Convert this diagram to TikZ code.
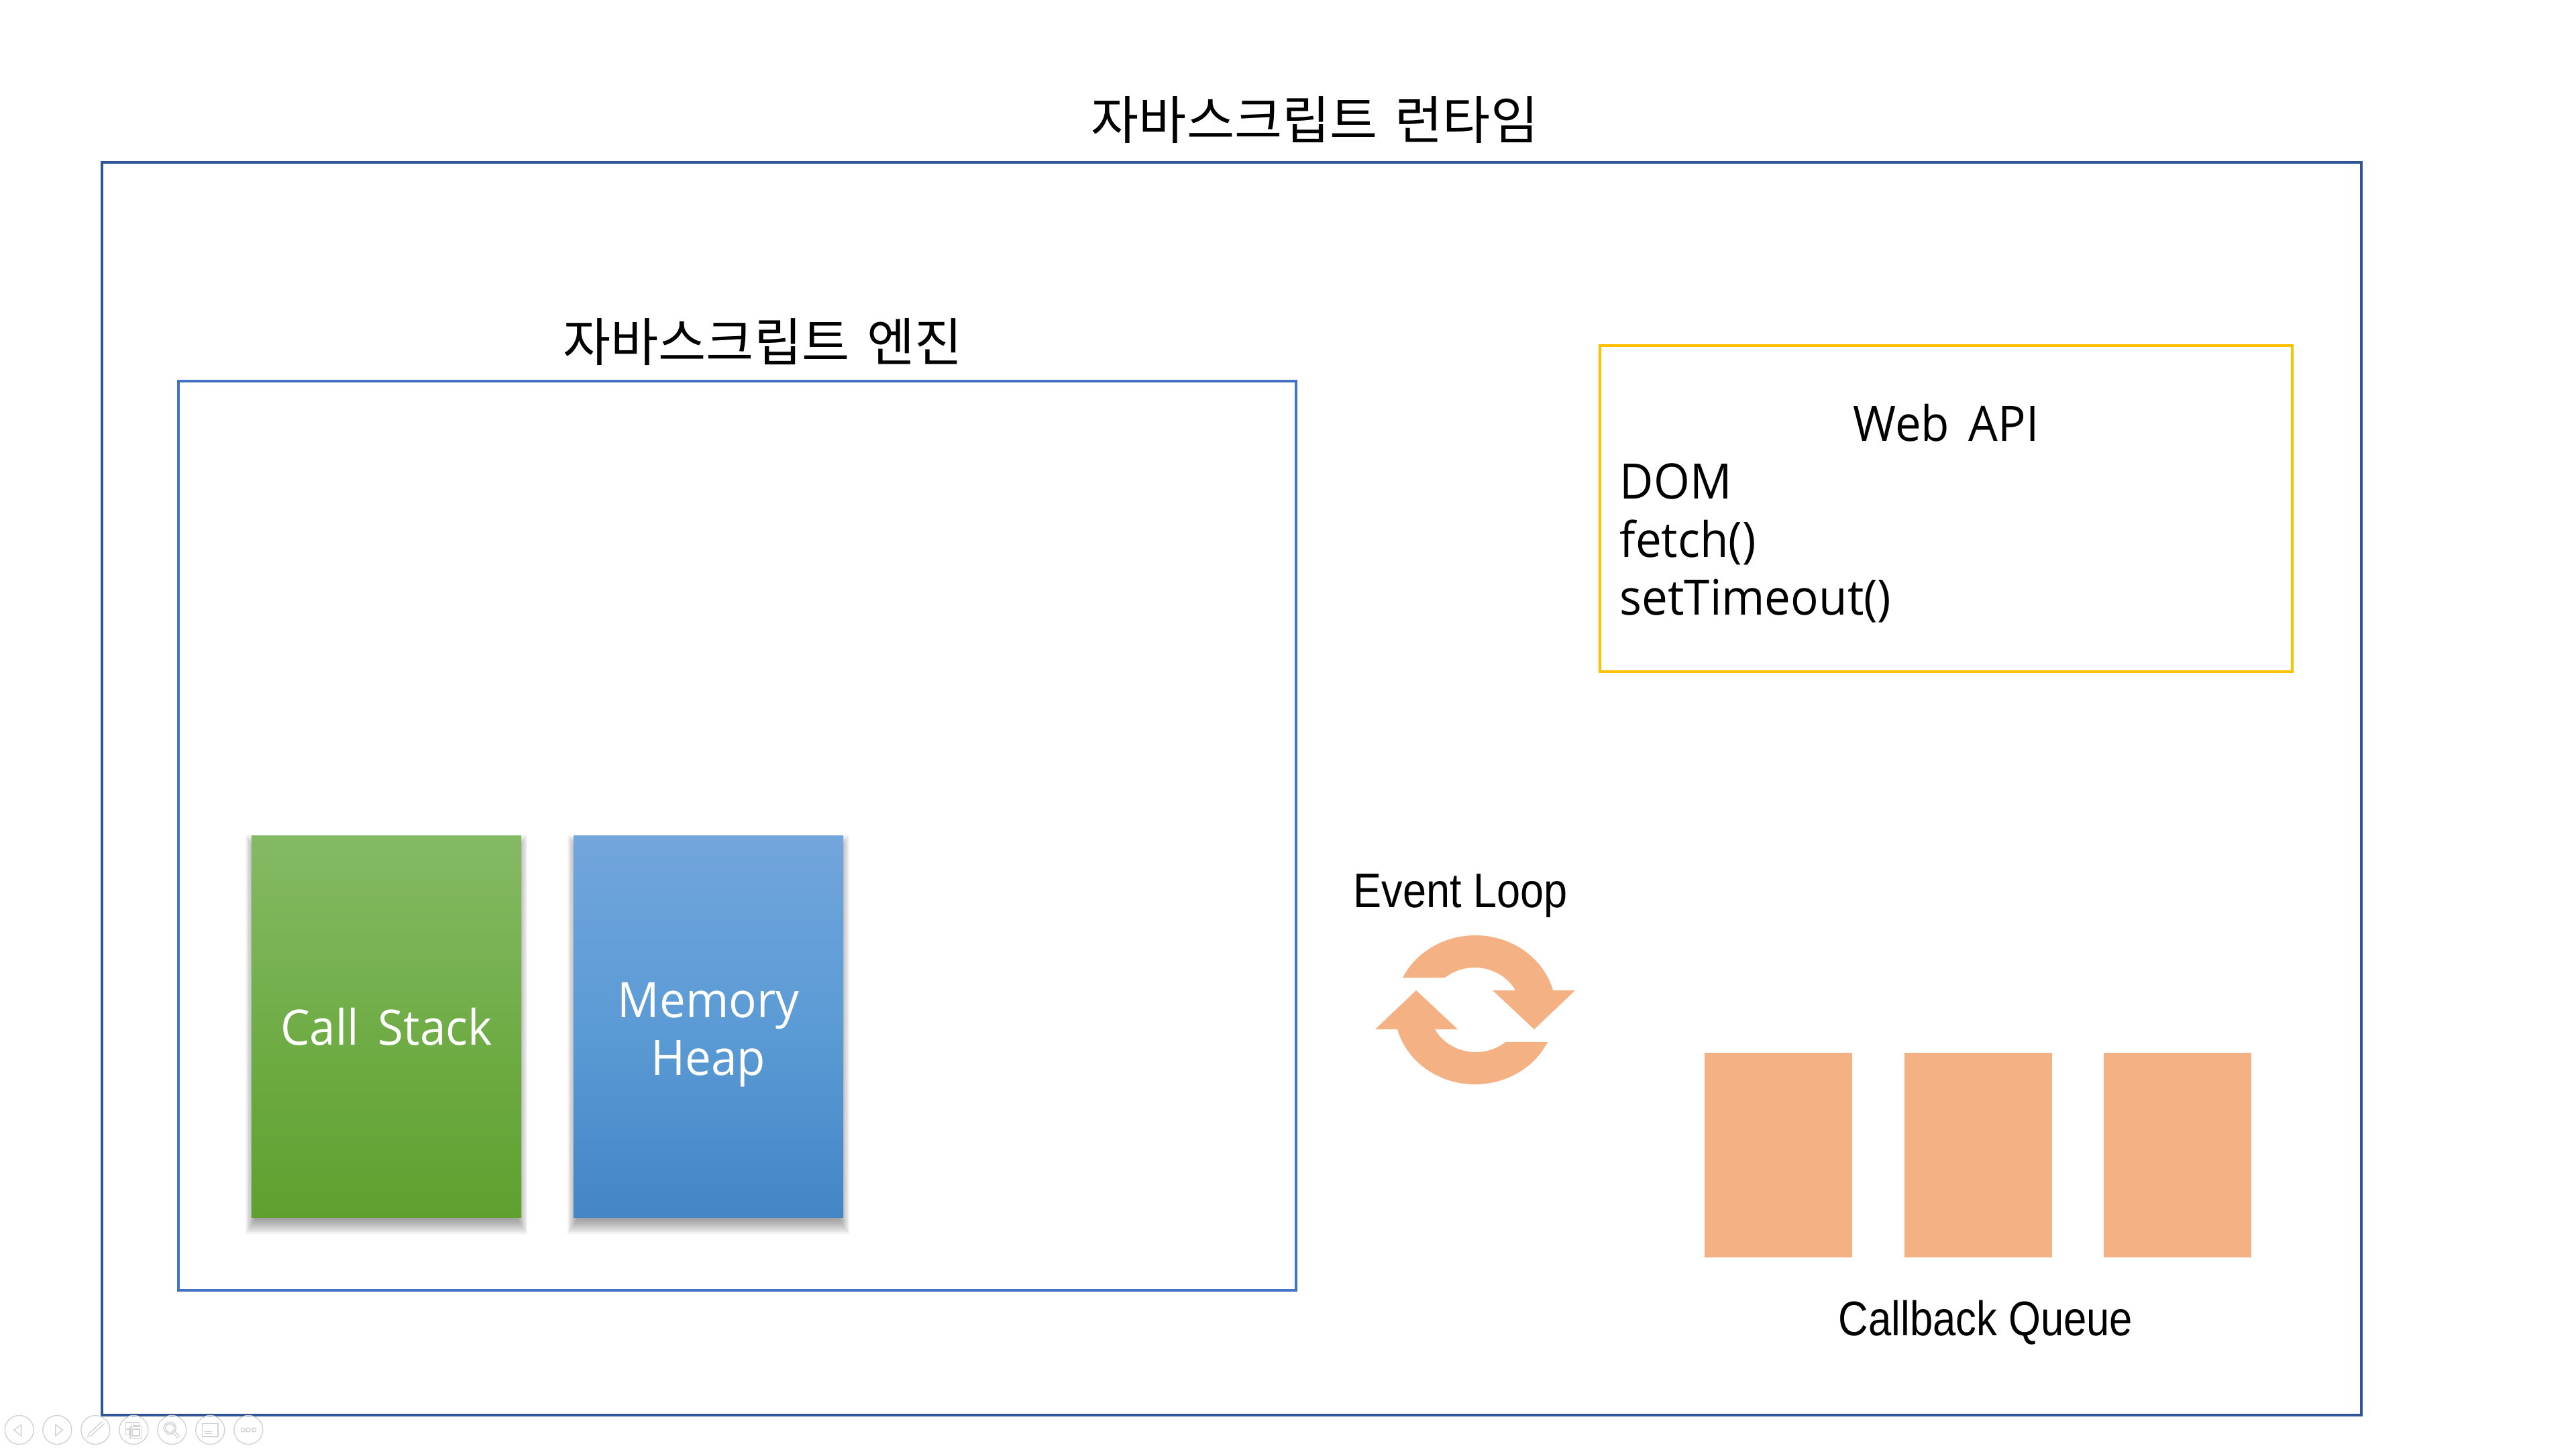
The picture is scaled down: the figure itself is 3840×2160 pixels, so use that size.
\documentclass[tikz,border=0pt]{standalone}
\usepackage{fontspec}
\usetikzlibrary{backgrounds}
\newfontfamily\krfont[WordSpace=1.5]{Noto Sans CJK KR}
\newfontfamily\bodyfont[FakeStretch=0.95,WordSpace=1.6]{Open Sans}
\newfontfamily\arialfont[FakeStretch=0.87]{Liberation Sans}
\newfontfamily\queuefont[FakeStretch=0.85]{Liberation Sans}
\definecolor{runtimeblue}{HTML}{2F5597}
\definecolor{engineblue}{HTML}{4472C4}
\definecolor{apiyellow}{HTML}{FFC000}
\definecolor{queueorange}{HTML}{F4B183}
\definecolor{toolgray}{HTML}{D2D2D2}
\definecolor{greentop}{HTML}{85BA65}
\definecolor{greenmid}{HTML}{70AD47}
\definecolor{greenbot}{HTML}{5FA02F}
\definecolor{bluetop}{HTML}{72A5DC}
\definecolor{bluemid}{HTML}{5B9BD5}
\definecolor{bluebot}{HTML}{4386C6}
\tikzset{
    framebox/.style={draw=#1, line width=0.04cm, rectangle, inner sep=0pt},
    titletext/.style={font=\krfont\fontsize{22}{26}\selectfont, inner sep=0pt},
    bodytext/.style={font=\bodyfont\fontsize{20.7}{24.5}\selectfont, inner sep=0pt},
    arialtext/.style={font=\arialfont\fontsize{20.6}{24}\selectfont, inner sep=0pt},
    stackbox/.style={rectangle, minimum width=4.02cm, minimum height=5.68cm, inner sep=0pt,
        text=white, align=center, bodytext},
    queuebox/.style={rectangle, fill=queueorange, minimum width=2.2cm, minimum height=3.05cm},
    toolicon/.style={draw=toolgray, line width=0.014cm},
}
\begin{document}
\begin{tikzpicture}[x=0.01cm,y=-0.01cm]
    \useasboundingbox (0,0) rectangle (3840,2160);

    % frames
    \node[framebox=runtimeblue, minimum width=33.66cm, minimum height=18.65cm] (runtime) at (1836,1175.5) {};
    \node[framebox=engineblue, minimum width=16.65cm, minimum height=13.55cm] (engine) at (1098.5,1245.5) {};
    \node[framebox=apiyellow, minimum width=10.32cm, minimum height=4.86cm] (webapi) at (2901,758) {};

    \node[titletext] (runtimetitle) at (1960,178.5) {자바스크립트 런타임};
    \node[titletext] (enginetitle) at (1137,509.5) {자바스크립트 엔진};

    % engine boxes
    \node[stackbox, shade, top color=greentop, bottom color=greenbot, middle color=greenmid]
        (callstack) at (576,1530) {Call Stack};
    \node[stackbox, shade, top color=bluetop, bottom color=bluebot, middle color=bluemid]
        (heap) at (1056,1530) {\rule{0pt}{0.76cm}Memory\\Heap};

    \begin{scope}[on background layer]
        \foreach \b in {callstack,heap}
            \foreach \d in {-0.12,-0.09,...,0.13}
                \fill[black,opacity=0.055] ([shift={(-\d*0.7 cm,-\d cm-0.12cm)}]\b.south west)
                    rectangle ([shift={(\d*0.7 cm,\d cm-0.12cm)}]\b.north east);
    \end{scope}

    % web api text
    \node[bodytext, anchor=base] (apititle) at (2901,657) {Web API};
    \node[bodytext, anchor=base west] (apidom) at (2414,743) {DOM};
    \node[bodytext, anchor=base west] (apifetch) at (2414,830) {fetch()};
    \node[bodytext, anchor=base west] (apitimeout) at (2414,916) {setTimeout()};

    % event loop
    \node[arialtext, anchor=base] (looptext) at (2177,1352) {Event Loop};
    \foreach \r in {0,180}
        \fill[queueorange, rotate around={\r:(2199,1505)}] (2091,1457)
            arc[start angle=205.6, end angle=344.9, x radius=120, y radius=111]
            -- (2348,1476) -- (2287,1534) -- (2225,1476) -- (2259,1476)
            arc[start angle=332.6, end angle=229.4, x radius=68.5, y radius=63] -- cycle;

    % callback queue
    \foreach \i/\x in {1/2651,2/2949,3/3246}
        \node[queuebox] (queue\i) at (\x,1721.5) {};
    \node[arialtext, font=\queuefont\fontsize{20.6}{24}\selectfont, anchor=base] (queuetext) at (2960,1990) {Callback Queue};

    % slide show buttons
    \foreach \x in {28.7,85.3,142.3,199.3,256.3,313.3,370.3}
        \draw[toolicon] (\x,2131) circle[radius=21.5];
    \draw[toolicon] (31.7,2123.3) -- (20.7,2131) -- (31.7,2140) -- cycle;
    \draw[toolicon] (82.7,2123.3) -- (93.3,2131) -- (82.7,2140) -- cycle;
    \draw[toolicon, double=white, double distance=0.03cm] (133,2139) -- (154,2120);
    \draw[toolicon] (130,2142) -- (133,2139);
    \draw[toolicon] (187.3,2120) rectangle (196.7,2128.3);
    \draw[toolicon] (198.7,2120) rectangle (207.3,2125);
    \draw[toolicon] (187.3,2130.7) rectangle (192.7,2138.3);
    \draw[toolicon] (194,2126.7) rectangle (211.3,2143.3);
    \draw[toolicon] (197,2130) rectangle (208,2140);
    \draw[toolicon] (253.3,2128.3) circle[radius=9];
    \draw[toolicon] (253.3,2128.3) circle[radius=6.5];
    \draw[toolicon, double=white, double distance=0.02cm] (260,2135) -- (266.7,2142.3);
    \draw[toolicon] (301.7,2121.7) rectangle (325,2141);
    \draw[toolicon, dashed] (305,2133.3) -- (322,2133.3);
    \draw[toolicon, dashed] (305,2136.7) -- (322,2136.7);
    \foreach \x in {362.3,370,378.7}
        \draw[toolicon] (\x,2131) circle[radius=3];
\end{tikzpicture}
\end{document}
